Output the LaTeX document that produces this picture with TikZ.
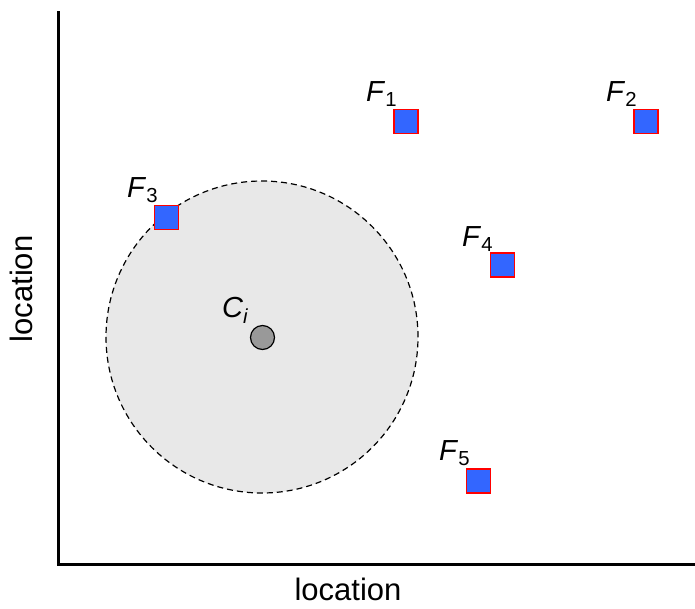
\documentclass[tikz,border=0pt]{standalone}
\usepackage{fontspec}
\setmainfont{Liberation Sans}
\usepackage{tikz}
\usetikzlibrary{positioning}

\definecolor{siteblue}{RGB}{51,102,255}
\definecolor{sitered}{RGB}{255,0,0}

\begin{document}
\begin{tikzpicture}[
    x=1pt, y=-1pt,
    site/.style={rectangle, draw=sitered, line width=1.6pt, fill=siteblue, minimum size=24pt, inner sep=0pt},
    cdot/.style={circle, draw=black, line width=1.2pt, fill=black!40, minimum size=24pt, inner sep=0pt},
    flabel/.style={anchor=base west, inner sep=0pt, font=\fontsize{29}{32}\selectfont},
    axlabel/.style={anchor=base, inner sep=0pt, font=\fontsize{31}{34}\selectfont},
    axis/.style={line width=2.2pt, line cap=rect}
]
    \useasboundingbox (0,0) rectangle (695,608);

    % axes
    \coordinate (top) at (58.5,12);
    \coordinate (origin) at (58.5,564.5);
    \coordinate (right) at (695,564.5);
    \draw[axis] (top) -- (origin) -- (right);
    \node[axlabel] (xlab) at (348,600.5) {location};
    \node[axlabel, rotate=90] (ylab) at (32.5,289) {location};

    % neighbourhood of the client
    \node[circle, draw=black, line width=1.2pt, dash pattern=on 6pt off 4pt, fill=black!9,
        minimum size=312pt, inner sep=0pt] (zone) at (262,337) {};
    \node[cdot] (ci) at (262.5,337.5) {};
    \node[flabel] (cilab) at (222,317) {\itshape C\textsubscript{i}};

    % facilities
    \node[site] (f1) at (406,121.5) {};
    \node[site] (f2) at (646,121.5) {};
    \node[site] (f3) at (166.5,217.5) {};
    \node[site] (f4) at (502.5,265) {};
    \node[site] (f5) at (478.5,481) {};

    \node[flabel] (f1lab) at (366,101) {\textit{F}\textsubscript{1}};
    \node[flabel] (f2lab) at (606,101) {\textit{F}\textsubscript{2}};
    \node[flabel] (f3lab) at (127,197) {\textit{F}\textsubscript{3}};
    \node[flabel] (f4lab) at (462,246) {\textit{F}\textsubscript{4}};
    \node[flabel] (f5lab) at (439,460) {\textit{F}\textsubscript{5}};
\end{tikzpicture}
\end{document}
